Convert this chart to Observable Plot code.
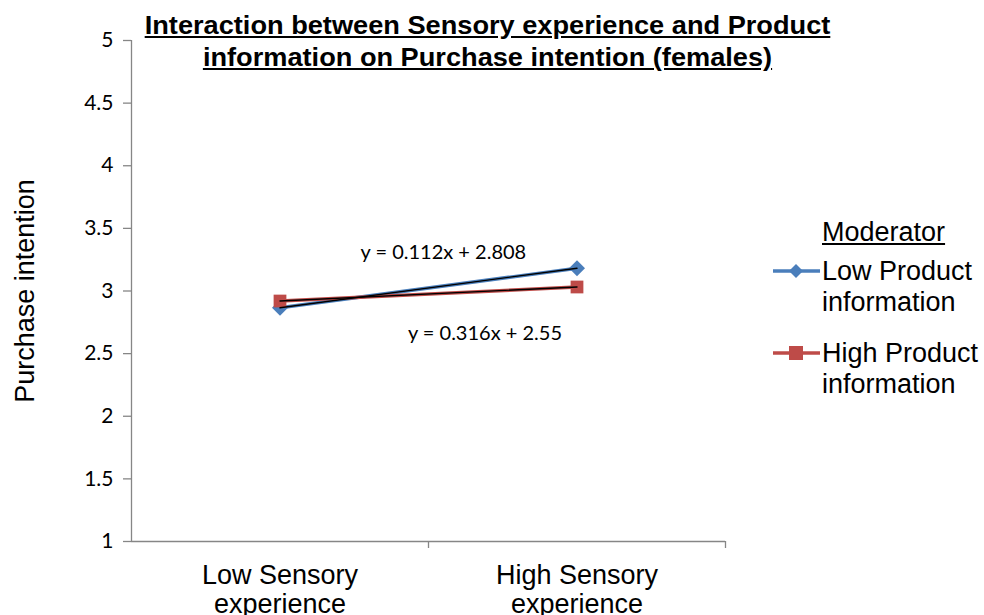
<!DOCTYPE html>
<html><head><meta charset="utf-8">
<script src="https://cdn.jsdelivr.net/npm/d3@7"></script>
<script src="https://cdn.jsdelivr.net/npm/@observablehq/plot@0.6"></script>
<style>
body{margin:0;background:#fff;}
#wrap{position:relative;width:984px;height:615px;overflow:hidden;background:#fff}
#title{position:absolute;left:0;top:9px;width:975px;text-align:center;font-family:"Liberation Sans",Arial,sans-serif;font-weight:bold;font-size:25px;line-height:32px;text-decoration:underline;color:#000;z-index:2;transform:scaleX(1.087);transform-origin:487.5px 0}
#legend{position:absolute;left:772px;top:217px;font-family:"Liberation Sans",Arial,sans-serif;font-size:27px;color:#000;z-index:2}
#legend .head{margin-left:50px;text-decoration:underline;line-height:31px;}
#legend .item{display:flex;align-items:flex-start;line-height:31px;}
#legend .item.first{margin-top:8px}
#legend .item.second{margin-top:20px}
#legend svg{flex:none;margin-top:4px}
</style></head><body><div id="wrap"><div id="title"></div><div id="legend"></div></div>
<script>
const titleLines = ["Interaction between Sensory experience and Product", "information on Purchase intention (females)"];
const categories = ["Low Sensory\nexperience", "High Sensory\nexperience"];
const seriesNames = ["Low Product information", "High Product information"];
const seriesLegendText = ["Low Product\ninformation", "High Product\ninformation"];
const lowProduct = [2.866, 3.182];
const highProduct = [2.92, 3.032];
const yTicks = [1, 1.5, 2, 2.5, 3, 3.5, 4, 4.5, 5];
const eqText = ["y = 0.112x + 2.808", "y = 0.316x + 2.55"];
const eqSlope = [0.112, 0.316];
const eqIntercept = [2.808, 2.55];
const legendTitle = "Moderator";
const yLabel = "Purchase intention";

const colors = ["#4a7ebb", "#be4b48"];
const symbols = ["diamond2", "square"];

const rows = [];
[lowProduct, highProduct].forEach((vals, s) => vals.forEach((v, i) => rows.push({series: seriesNames[s], x: i + 1, y: v})));
const trend = [];
eqSlope.forEach((m, s) => [1, 2].forEach(x => trend.push({eq: s, x, y: m * x + eqIntercept[s]})));
const bounds = d3.range(categories.length + 1).map(i => i + 0.5);

const axisColor = "#868686";
const chart = Plot.plot({
  width: 984, height: 615,
  marginLeft: 131, marginRight: 259, marginTop: 40, marginBottom: 74,
  style: {fontFamily: "Lato, 'Open Sans', sans-serif", background: "transparent"},
  x: {type: "linear", domain: [0.5, categories.length + 0.5]},
  y: {domain: [1, 5]},
  color: {domain: seriesNames, range: colors},
  symbol: {domain: seriesNames, range: symbols},
  marks: [
    Plot.ruleX([0.5], {stroke: axisColor, strokeWidth: 1.3}),
    Plot.ruleY([1], {stroke: axisColor, strokeWidth: 1.3}),
    Plot.axisY({ticks: yTicks, tickSize: 8, tickPadding: 10, fontSize: 21, tickFormat: d => String(d), label: null, stroke: axisColor, strokeWidth: 1.3, fill: "#000", strokeOpacity: 1}),
    Plot.axisX({ticks: bounds.slice(1), tickSize: 7, tickFormat: () => "", stroke: axisColor, strokeWidth: 1.3, strokeOpacity: 1, label: null}),
    Plot.text(categories, {x: (d, i) => i + 1, y: [1, 1], text: d => d, dy: 48, fontSize: 27, lineHeight: 1.08, fontFamily: "'Liberation Sans', Arial, sans-serif", fill: "#000"}),
    Plot.text([yLabel], {x: [0.5], y: [3], text: d => d, rotate: -90, dx: -106, fontSize: 27, fontFamily: "'Liberation Sans', Arial, sans-serif", fill: "#000"}),
    Plot.line(rows, {x: "x", y: "y", z: "series", stroke: "series", strokeWidth: 3.5}),
    Plot.dot(rows, {x: "x", y: "y", symbol: "series", fill: "series", stroke: null, r: 7.2}),
    Plot.line(trend, {x: "x", y: "y", z: "eq", stroke: "#000", strokeWidth: 1.4}),
    Plot.text([eqText[0]], {x: [1.55], y: [eqSlope[0] * 1.55 + eqIntercept[0]], text: d => d, dy: -41, fontSize: 20, fill: "#000"}),
    Plot.text([eqText[1]], {x: [1.69], y: [eqSlope[1] * 1.69 + eqIntercept[1]], text: d => d, dy: 53, fontSize: 20, fill: "#000"})
  ]
});
document.getElementById("wrap").appendChild(chart);
chart.style.position = "absolute"; chart.style.left = "0"; chart.style.top = "0";

document.getElementById("title").innerHTML = titleLines.join("<br>");
const lg = document.getElementById("legend");
lg.innerHTML = `<div class="head">${legendTitle}</div>` + seriesLegendText.map((t, i) => {
  const mk = i === 0
    ? `<path d="M24,4 L31,11 L24,18 L17,11 Z" fill="${colors[i]}"/>`
    : `<rect x="17" y="4" width="14" height="14" fill="${colors[i]}"/>`;
  return `<div class="item ${i === 0 ? "first" : "second"}"><svg width="50" height="22"><line x1="1" x2="48" y1="11" y2="11" stroke="${colors[i]}" stroke-width="3.5"/>${mk}</svg><div>${t.replace("\n", "<br>")}</div></div>`;
}).join("");
</script>
</body></html>
